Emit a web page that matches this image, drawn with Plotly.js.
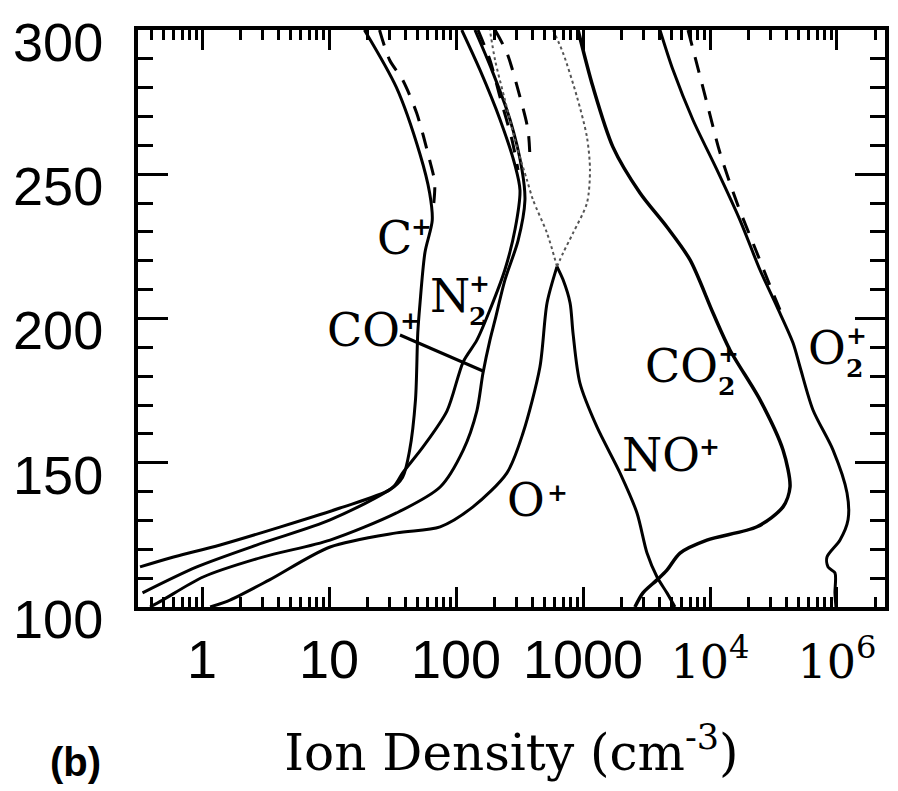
<!DOCTYPE html>
<html>
<head>
<meta charset="utf-8">
<script src="https://cdn.plot.ly/plotly-3.0.1.min.js"></script>
<style>html,body{margin:0;padding:0;background:#fff;}#chart{width:898px;height:791px;}</style>
</head>
<body>
<div id="chart"></div>
<script>
// ---- Data: altitude (km) and ion density (cm^-3) ----
var cPlusAlt   = [300, 280, 257, 243.5, 234, 223, 205, 195, 172, 154, 145, 140.6, 134.3, 127.7, 121.5, 117, 113.9];
var cPlusDen   = [19, 34, 52, 62, 65, 57, 52, 50, 48, 43, 38, 30, 12.2, 4.1, 1.39, 0.56, 0.325];

var cPlusDashAlt = [300, 289.6, 282.7, 271.2, 254.9, 247, 237.6];
var cPlusDashDen = [25, 30, 38, 49, 62, 68, 66];

var n2PlusAlt  = [300, 286, 269, 253, 244.5, 231, 217, 203, 192.5, 185, 168, 155.5, 146.5, 141.6, 130.2, 122.2, 113.9, 104.9];
var n2PlusDen  = [111, 155, 222, 292, 319, 292, 243, 185, 146, 114, 85, 55, 38, 32, 10.2, 3.0, 0.91, 0.34];

var n2PlusDashAlt = [300, 289.6, 276.8, 261.9, 251.5];
var n2PlusDashDen = [149, 185, 222, 276, 308];

var coPlusAlt  = [300, 286, 269, 251.5, 241, 227, 213.4, 199.5, 192.5, 181, 168, 154.4, 141.6, 132.6, 123.2, 117.3, 110.4, 102.4, 100];
var coPlusDen  = [141, 192, 266, 331, 349, 308, 243, 203, 185, 163, 146, 114, 75, 34, 10.2, 3.0, 1.02, 0.49, 0.39];

var coPlusDashAlt = [300, 292, 276.8, 265.3, 254.9];
var coPlusDashDen = [203, 252, 319, 369, 383];

var oPlusAlt   = [218, 205.4, 183.2, 160.3, 146.5, 134.7, 127.8, 125.7, 120.8, 109.4, 102.4, 100];
var oPlusDen   = [624, 521, 458, 337, 252, 136, 75, 34, 10.2, 3.4, 1.66, 1.16];

var oPlusUpAlt = [218, 222.7, 229.6, 240, 251.5, 262.9, 276.8, 292, 300];
var oPlusUpDen = [624, 697, 834, 1074, 1135, 1074, 897, 697, 581];

var noPlusAlt  = [218, 213.4, 205.4, 195, 177.6, 162.4, 146.5, 132.6, 118.7, 110.4, 104.9, 100];
var noPlusDen  = [624, 697, 791, 834, 946, 1288, 1954, 2661, 3192, 3828, 4581, 5297];

var noPlusUpAlt = [218, 229.6, 241.1, 248, 259.4, 275.7, 289.6, 300];
var noPlusUpDen = [624, 521, 404, 362, 302, 243, 203, 185];

var co2PlusAlt = [300, 280.2, 259.4, 243.5, 231.7, 220.3, 201.9, 189.1, 171.8, 154.4, 141.6, 134.7, 127.8, 123.2, 118.7, 112.8, 109.4, 104.9, 100];
var co2PlusDen = [914, 1199, 1722, 2812, 4581, 6966, 10568, 14355, 24774, 37584, 42658, 37584, 23442, 9462, 5808, 4581, 3828, 2965, 2564];

var o2PlusAlt  = [300, 286.1, 268.8, 251.5, 234.1, 216.8, 204, 191.5, 183.2, 168.3, 154.4, 139.5, 130.2, 123.2, 117.3, 113.9, 111.8, 104.9, 100];
var o2PlusDen  = [4036, 5117, 7345, 11350, 17219, 24774, 33729, 45082, 51168, 64714, 93111, 119950, 122180, 105680, 83368, 84918, 96383, 96383, 98175];

var o2PlusDashAlt = [300, 274.7, 257.4, 240, 222.7, 208.8, 203];
var o2PlusDashDen = [6714, 9462, 11995, 16331, 23442, 31333, 35563];

// axis ticks
var xTickVals  = [1, 10, 100, 1000, 1e4, 1e5];
var xTickText  = ['1', '10', '100', '1000', '10<sup>4</sup>', '10<sup>6</sup>'];
var yTickVals  = [100, 150, 200, 250, 300];

// ---- Layout helpers ----
var W = 898, H = 791;
var L = 138, R = 885, T = 30, B = 607;
function px(x) { return (x - L) / (R - L); }
function py(y) { return (B - y) / (B - T); }

function solid(x, y, w) {
  return {x: x, y: y, type: 'scatter', mode: 'lines',
    line: {color: '#000', width: w || 3, shape: 'spline', smoothing: 0.8}, hoverinfo: 'skip'};
}
function dashed(x, y) {
  return {x: x, y: y, type: 'scatter', mode: 'lines',
    line: {color: '#000', width: 3, dash: '16px,12px', shape: 'spline', smoothing: 0.8}, hoverinfo: 'skip'};
}
function dotted(x, y) {
  return {x: x, y: y, type: 'scatter', mode: 'lines',
    line: {color: '#555', width: 2, dash: 'dot', shape: 'spline', smoothing: 0.8}, hoverinfo: 'skip'};
}

var traces = [
  solid(cPlusDen, cPlusAlt),
  dashed(cPlusDashDen, cPlusDashAlt),
  solid(n2PlusDen, n2PlusAlt),
  dashed(n2PlusDashDen, n2PlusDashAlt),
  solid(coPlusDen, coPlusAlt),
  dashed(coPlusDashDen, coPlusDashAlt),
  solid(oPlusDen, oPlusAlt),
  dotted(oPlusUpDen, oPlusUpAlt),
  solid(noPlusDen, noPlusAlt),
  dotted(noPlusUpDen, noPlusUpAlt),
  solid(co2PlusDen, co2PlusAlt, 3.5),
  solid(o2PlusDen, o2PlusAlt),
  dashed(o2PlusDashDen, o2PlusDashAlt)
];

// minor ticks on log axis (digits 2..9 of every decade)
var minorX = [];
for (var d = -1; d <= 5; d++) for (var k = 2; k <= 9; k++) minorX.push(k * Math.pow(10, d));

// tick label styling (sans for plain numbers, serif for powers of ten)
var xTickStyled = xTickText.map(function (t) {
  return t.indexOf('<sup>') >= 0 ?
    '<span style="font-family:\'DejaVu Serif\';font-size:46px">' + t + '</span>' : t;
});

var lblFont = {family: 'DejaVu Serif', size: 46, color: '#000'};
var supFont = {family: 'DejaVu Serif', size: 25, color: '#000'};
function ann(text, x, y, font, anchor) {
  return {text: text, xref: 'paper', yref: 'paper', x: px(x), y: py(y),
    xanchor: anchor || 'left', yanchor: 'middle', align: 'left', showarrow: false, font: font};
}

var annotations = [
  ann('C', 375, 238, lblFont),
  ann('<b>+</b>', 409, 226, supFont),
  ann('N', 428, 296, lblFont),
  ann('<b>+</b><br><b>2</b>', 467, 300, supFont),
  ann('CO', 325, 330, lblFont),
  ann('<b>+</b>', 398, 320, supFont),
  ann('O', 505, 500, lblFont),
  ann('<b>+</b>', 545, 492, supFont),
  ann('NO', 620, 455, lblFont),
  ann('<b>+</b>', 697, 446, supFont),
  ann('CO', 643, 366, lblFont),
  ann('<b>+</b><br><b>2</b>', 716, 370, supFont),
  ann('O', 806, 348, lblFont),
  ann('<b>+</b><br><b>2</b>', 844, 352, supFont),
  {text: '<b>(b)</b>', xref: 'paper', yref: 'paper', x: px(75), y: py(762),
   xanchor: 'center', yanchor: 'middle', showarrow: false,
   font: {family: 'Liberation Sans', size: 40, color: '#000'}}
];

var shapes = [
  {type: 'line', xref: 'paper', yref: 'paper', x0: px(400), y0: py(335), x1: px(483), y1: py(371),
   line: {color: '#000', width: 3}}
];

var layout = {
  width: W, height: H,
  margin: {l: L, r: W - R, t: T, b: H - B},
  paper_bgcolor: '#fff', plot_bgcolor: '#fff',
  showlegend: false,
  font: {family: 'Liberation Sans', color: '#000'},
  xaxis: {
    type: 'log', range: [-0.504, 5.378],
    tickvals: xTickVals, ticktext: xTickStyled,
    ticks: 'inside', ticklen: 20, tickwidth: 3, tickcolor: '#000',
    minor: {tickvals: minorX, ticks: 'inside', ticklen: 10, tickwidth: 3, tickcolor: '#000', showgrid: false},
    showline: true, linewidth: 4, linecolor: '#000', mirror: 'ticks',
    showgrid: false, zeroline: false,
    tickfont: {family: 'Liberation Sans', size: 54, color: '#000'},
    ticklabelstandoff: 2,
    title: {text: 'Ion Density (cm<sup>-3</sup>)', standoff: 48,
      font: {family: 'DejaVu Serif', size: 50, color: '#000'}}
  },
  yaxis: {
    range: [100, 300],
    tickvals: yTickVals,
    ticks: 'inside', ticklen: 30, tickwidth: 3, tickcolor: '#000',
    minor: {dtick: 10, ticks: 'inside', ticklen: 15, tickwidth: 3, tickcolor: '#000', showgrid: false},
    showline: true, linewidth: 4, linecolor: '#000', mirror: 'ticks',
    showgrid: false, zeroline: false,
    tickfont: {family: 'Liberation Sans', size: 54, color: '#000'},
    ticklabelstandoff: 20, ticklabelshift: 12
  },
  annotations: annotations,
  shapes: shapes
};

Plotly.newPlot('chart', traces, layout, {displayModeBar: false, staticPlot: true});
</script>
</body>
</html>
